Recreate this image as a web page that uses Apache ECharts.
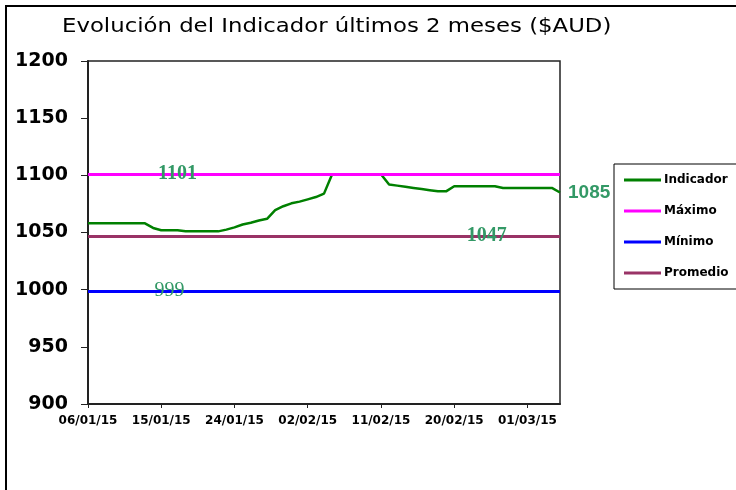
<!DOCTYPE html>
<html>
<head>
<meta charset="utf-8">
<script src="https://cdn.jsdelivr.net/npm/echarts@6/dist/echarts.min.js"></script>
<style>
  html, body { margin: 0; padding: 0; background: #fff; }
  #chart { width: 736px; height: 490px; }
</style>
</head>
<body>
<div id="chart"></div>
<script>
// fechas (eje x)
const fechas = [
  '06/01/15', '07/01/15', '08/01/15', '09/01/15', '10/01/15', '11/01/15', '12/01/15', '13/01/15', '14/01/15',
  '15/01/15', '16/01/15', '17/01/15', '18/01/15', '19/01/15', '20/01/15', '21/01/15', '22/01/15', '23/01/15',
  '24/01/15', '25/01/15', '26/01/15', '27/01/15', '28/01/15', '29/01/15', '30/01/15', '31/01/15', '01/02/15',
  '02/02/15', '03/02/15', '04/02/15', '05/02/15', '06/02/15', '07/02/15', '08/02/15', '09/02/15', '10/02/15',
  '11/02/15', '12/02/15', '13/02/15', '14/02/15', '15/02/15', '16/02/15', '17/02/15', '18/02/15', '19/02/15',
  '20/02/15', '21/02/15', '22/02/15', '23/02/15', '24/02/15', '25/02/15', '26/02/15', '27/02/15', '28/02/15',
  '01/03/15', '02/03/15', '03/03/15', '04/03/15', '05/03/15'
]
// valores del indicador
const indicador = [
  1058, 1058, 1058, 1058, 1058, 1058, 1058, 1058, 1054,
  1052, 1052, 1052, 1051, 1051, 1051, 1051, 1051, 1052.5,
  1054.5, 1057, 1058.5, 1060.5, 1062, 1069.5, 1073, 1075.5, 1077,
  1079, 1081, 1084, 1101, 1101, 1101, 1101, 1101, 1101,
  1101, 1092, 1091, 1090, 1089, 1088, 1087, 1086, 1086,
  1090.5, 1090.5, 1090.5, 1090.5, 1090.5, 1090.5, 1089, 1089, 1089,
  1089, 1089, 1089, 1089, 1085
]
const maximo = 1101
const minimo = 999
const promedio = 1047
const yTicks = [900, 950, 1000, 1050, 1100, 1150, 1200]

const labelColor = '#339966'
const etiqueta = {
  show: true,
  position: 'inside',
  formatter: '{c}',
  color: labelColor,
  fontFamily: 'Liberation Serif',
  fontWeight: 'bold',
  fontSize: 20
}

const myChart = echarts.init(document.getElementById('chart'))
myChart.setOption({
  animation: false,
  backgroundColor: '#fff',
  graphic: [
    {
      type: 'rect',
      shape: {x: 6, y: 6, width: 800, height: 600},
      style: {fill: 'none', stroke: '#000', lineWidth: 2},
      silent: true
    },
    {
      // titulo
      type: 'text',
      x: 62,
      y: 27,
      scaleX: 1.2,
      style: {
        text: 'Evolución del Indicador últimos 2 meses ($AUD)',
        fontFamily: 'DejaVu Sans',
        fontSize: 19,
        fill: '#000',
        verticalAlign: 'middle'
      },
      silent: true
    }
  ],
  legend: {
    orient: 'vertical',
    left: 614,
    top: 164,
    padding: [10, 8, 10, 10],
    itemGap: 19,
    itemWidth: 37,
    itemHeight: 3,
    icon: 'rect',
    borderColor: '#000',
    borderWidth: 1,
    backgroundColor: '#fff',
    textStyle: {
      fontFamily: 'DejaVu Sans',
      fontWeight: 'bold',
      fontSize: 12,
      color: '#000',
      padding: [0, 0, 0, -2]
    },
    data: ['Indicador', 'Máximo', 'Mínimo', 'Promedio']
  },
  grid: {
    left: 88,
    top: 61,
    right: 176,
    bottom: 86,
    show: true,
    borderColor: '#222',
    borderWidth: 1.5
  },
  xAxis: {
    type: 'category',
    data: fechas,
    boundaryGap: false,
    axisLine: {lineStyle: {color: '#222', width: 2}},
    axisTick: {interval: 8, length: 4, lineStyle: {color: '#222'}},
    axisLabel: {
      interval: 8,
      margin: 11,
      fontFamily: 'DejaVu Sans',
      fontWeight: 'bold',
      fontSize: 12,
      color: '#000'
    },
    splitLine: {show: false}
  },
  yAxis: {
    type: 'value',
    min: yTicks[0],
    max: yTicks[yTicks.length - 1],
    interval: 50,
    axisLine: {show: true, lineStyle: {color: '#222', width: 2}},
    axisTick: {show: true, length: 7, lineStyle: {color: '#222'}},
    axisLabel: {
      margin: 20,
      formatter: (v) => String(v),
      fontFamily: 'DejaVu Sans',
      fontWeight: 'bold',
      fontSize: 19,
      color: '#000'
    },
    splitLine: {show: false}
  },
  series: [
    {
      name: 'Indicador',
      type: 'line',
      data: indicador,
      color: '#008000',
      symbol: 'none',
      z: 2,
      lineStyle: {color: '#008000', width: 2.5},
      markPoint: {
        symbol: 'circle',
        symbolSize: 0,
        label: Object.assign({}, etiqueta, {position: 'right', distance: 8, fontFamily: 'Liberation Sans', fontSize: 19}),
        data: [{coord: [fechas[fechas.length - 1], indicador[indicador.length - 1]], value: indicador[indicador.length - 1]}]
      }
    },
    {
      name: 'Máximo',
      type: 'line',
      data: [],
      color: '#ff00ff',
      z: 3,
      markLine: {
        silent: true,
        symbol: 'none',
        label: {show: false},
        lineStyle: {color: '#ff00ff', width: 3, type: 'solid'},
        data: [{yAxis: maximo}]
      },
      markPoint: {
        symbol: 'circle',
        symbolSize: 0,
        label: etiqueta,
        data: [{coord: [fechas[11], maximo], value: maximo}]
      }
    },
    {
      name: 'Mínimo',
      type: 'line',
      data: [],
      color: '#0000ff',
      z: 3,
      markLine: {
        silent: true,
        symbol: 'none',
        label: {show: false},
        lineStyle: {color: '#0000ff', width: 3, type: 'solid'},
        data: [{yAxis: minimo}]
      },
      markPoint: {
        symbol: 'circle',
        symbolSize: 0,
        label: Object.assign({}, etiqueta, {fontWeight: 'normal'}),
        data: [{coord: [fechas[10], minimo], value: minimo}]
      }
    },
    {
      name: 'Promedio',
      type: 'line',
      data: [],
      color: '#993366',
      z: 3,
      markLine: {
        silent: true,
        symbol: 'none',
        label: {show: false},
        lineStyle: {color: '#993366', width: 3, type: 'solid'},
        data: [{yAxis: promedio}]
      },
      markPoint: {
        symbol: 'circle',
        symbolSize: 0,
        label: etiqueta,
        data: [{coord: [fechas[49], promedio], value: promedio}]
      }
    }
  ]
})
</script>
</body>
</html>
